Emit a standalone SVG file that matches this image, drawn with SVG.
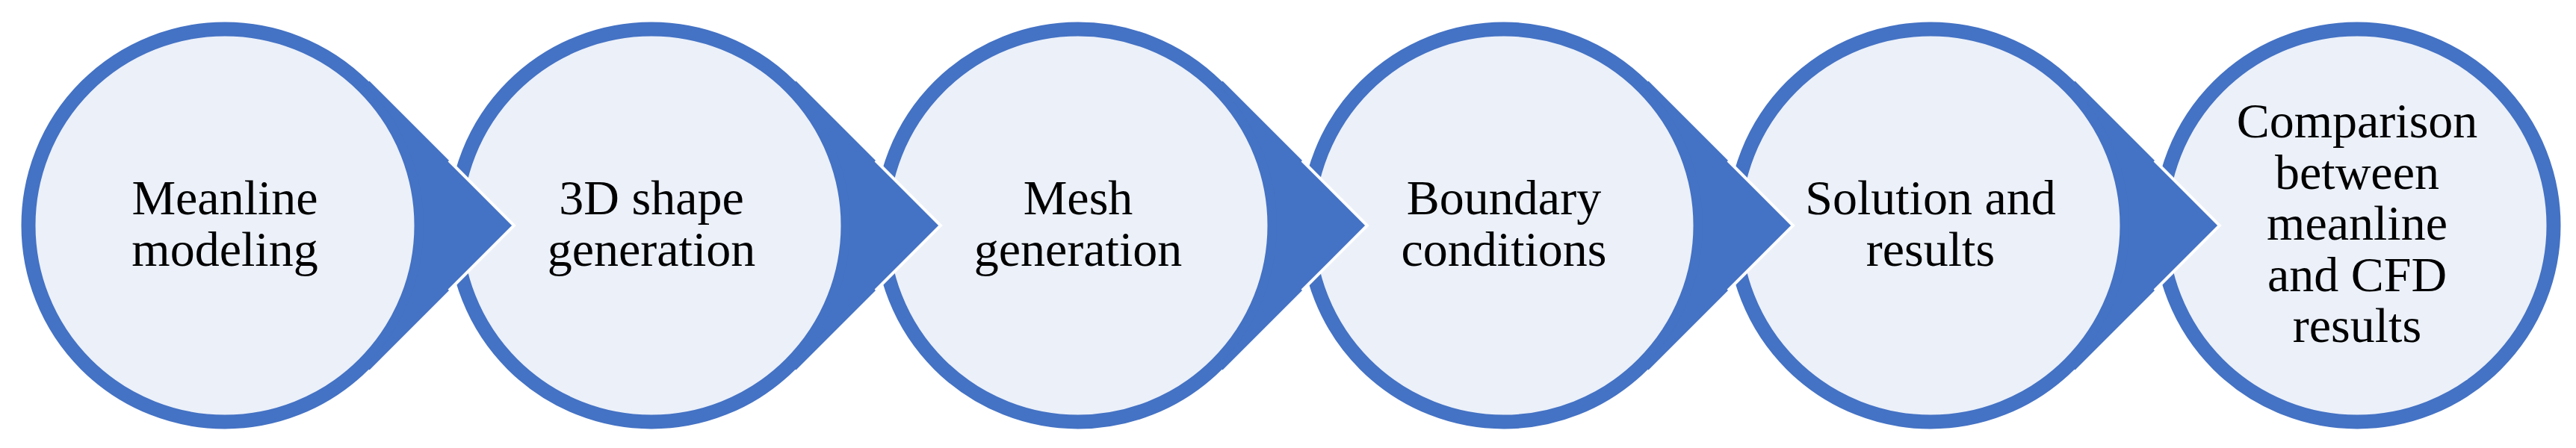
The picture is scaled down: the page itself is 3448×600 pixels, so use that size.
<svg xmlns="http://www.w3.org/2000/svg" width="3448" height="600" viewBox="0 0 3448 600">
<style>
.c{fill:#EBF0F9;stroke:#4472C4;stroke-width:19}
.a{fill:#4472C4;stroke:none}
.w{fill:none;stroke:#FFFFFF;stroke-width:4;stroke-linejoin:miter}
.t{font-family:"Liberation Serif","Times New Roman",serif;font-size:66px;fill:#000000;text-anchor:middle}
</style>
<rect x="0" y="0" width="3448" height="600" fill="#FFFFFF"/>
<g id="node1"><circle class="c" cx="301" cy="302" r="263"/><text class="t"><tspan x="301" y="287">Meanline</tspan><tspan x="301" y="356">modeling</tspan></text></g>
<g id="node2"><circle class="c" cx="872" cy="302" r="263"/><text class="t"><tspan x="872" y="287">3D shape</tspan><tspan x="872" y="356">generation</tspan></text></g>
<g id="node3"><circle class="c" cx="1443" cy="302" r="263"/><text class="t"><tspan x="1443" y="287">Mesh</tspan><tspan x="1443" y="356">generation</tspan></text></g>
<g id="node4"><circle class="c" cx="2013" cy="302" r="263"/><text class="t"><tspan x="2013" y="287">Boundary</tspan><tspan x="2013" y="356">conditions</tspan></text></g>
<g id="node5"><circle class="c" cx="2584" cy="302" r="263"/><text class="t"><tspan x="2584" y="287">Solution and</tspan><tspan x="2584" y="356">results</tspan></text></g>
<g id="node6"><circle class="c" cx="3155" cy="302" r="263"/><text class="t"><tspan x="3155" y="184">Comparison</tspan><tspan x="3155" y="252.5">between</tspan><tspan x="3155" y="321">meanline</tspan><tspan x="3155" y="389.5">and CFD</tspan><tspan x="3155" y="458">results</tspan></text></g>
<g id="connectors">
<g id="arrow1" transform="translate(301,0)"><path class="a" d="M193.5,108.5 L387,302 L193.5,495.5 L188.1,490.1 A266,266 0 0 0 188.1,113.9 Z"/><polyline class="w" points="300,215 387,302 300,389"/></g>
<g id="arrow2" transform="translate(872,0)"><path class="a" d="M193.5,108.5 L387,302 L193.5,495.5 L188.1,490.1 A266,266 0 0 0 188.1,113.9 Z"/><polyline class="w" points="300,215 387,302 300,389"/></g>
<g id="arrow3" transform="translate(1443,0)"><path class="a" d="M193.5,108.5 L387,302 L193.5,495.5 L188.1,490.1 A266,266 0 0 0 188.1,113.9 Z"/><polyline class="w" points="300,215 387,302 300,389"/></g>
<g id="arrow4" transform="translate(2013,0)"><path class="a" d="M193.5,108.5 L387,302 L193.5,495.5 L188.1,490.1 A266,266 0 0 0 188.1,113.9 Z"/><polyline class="w" points="300,215 387,302 300,389"/></g>
<g id="arrow5" transform="translate(2584,0)"><path class="a" d="M193.5,108.5 L387,302 L193.5,495.5 L188.1,490.1 A266,266 0 0 0 188.1,113.9 Z"/><polyline class="w" points="300,215 387,302 300,389"/></g>
</g>
</svg>
